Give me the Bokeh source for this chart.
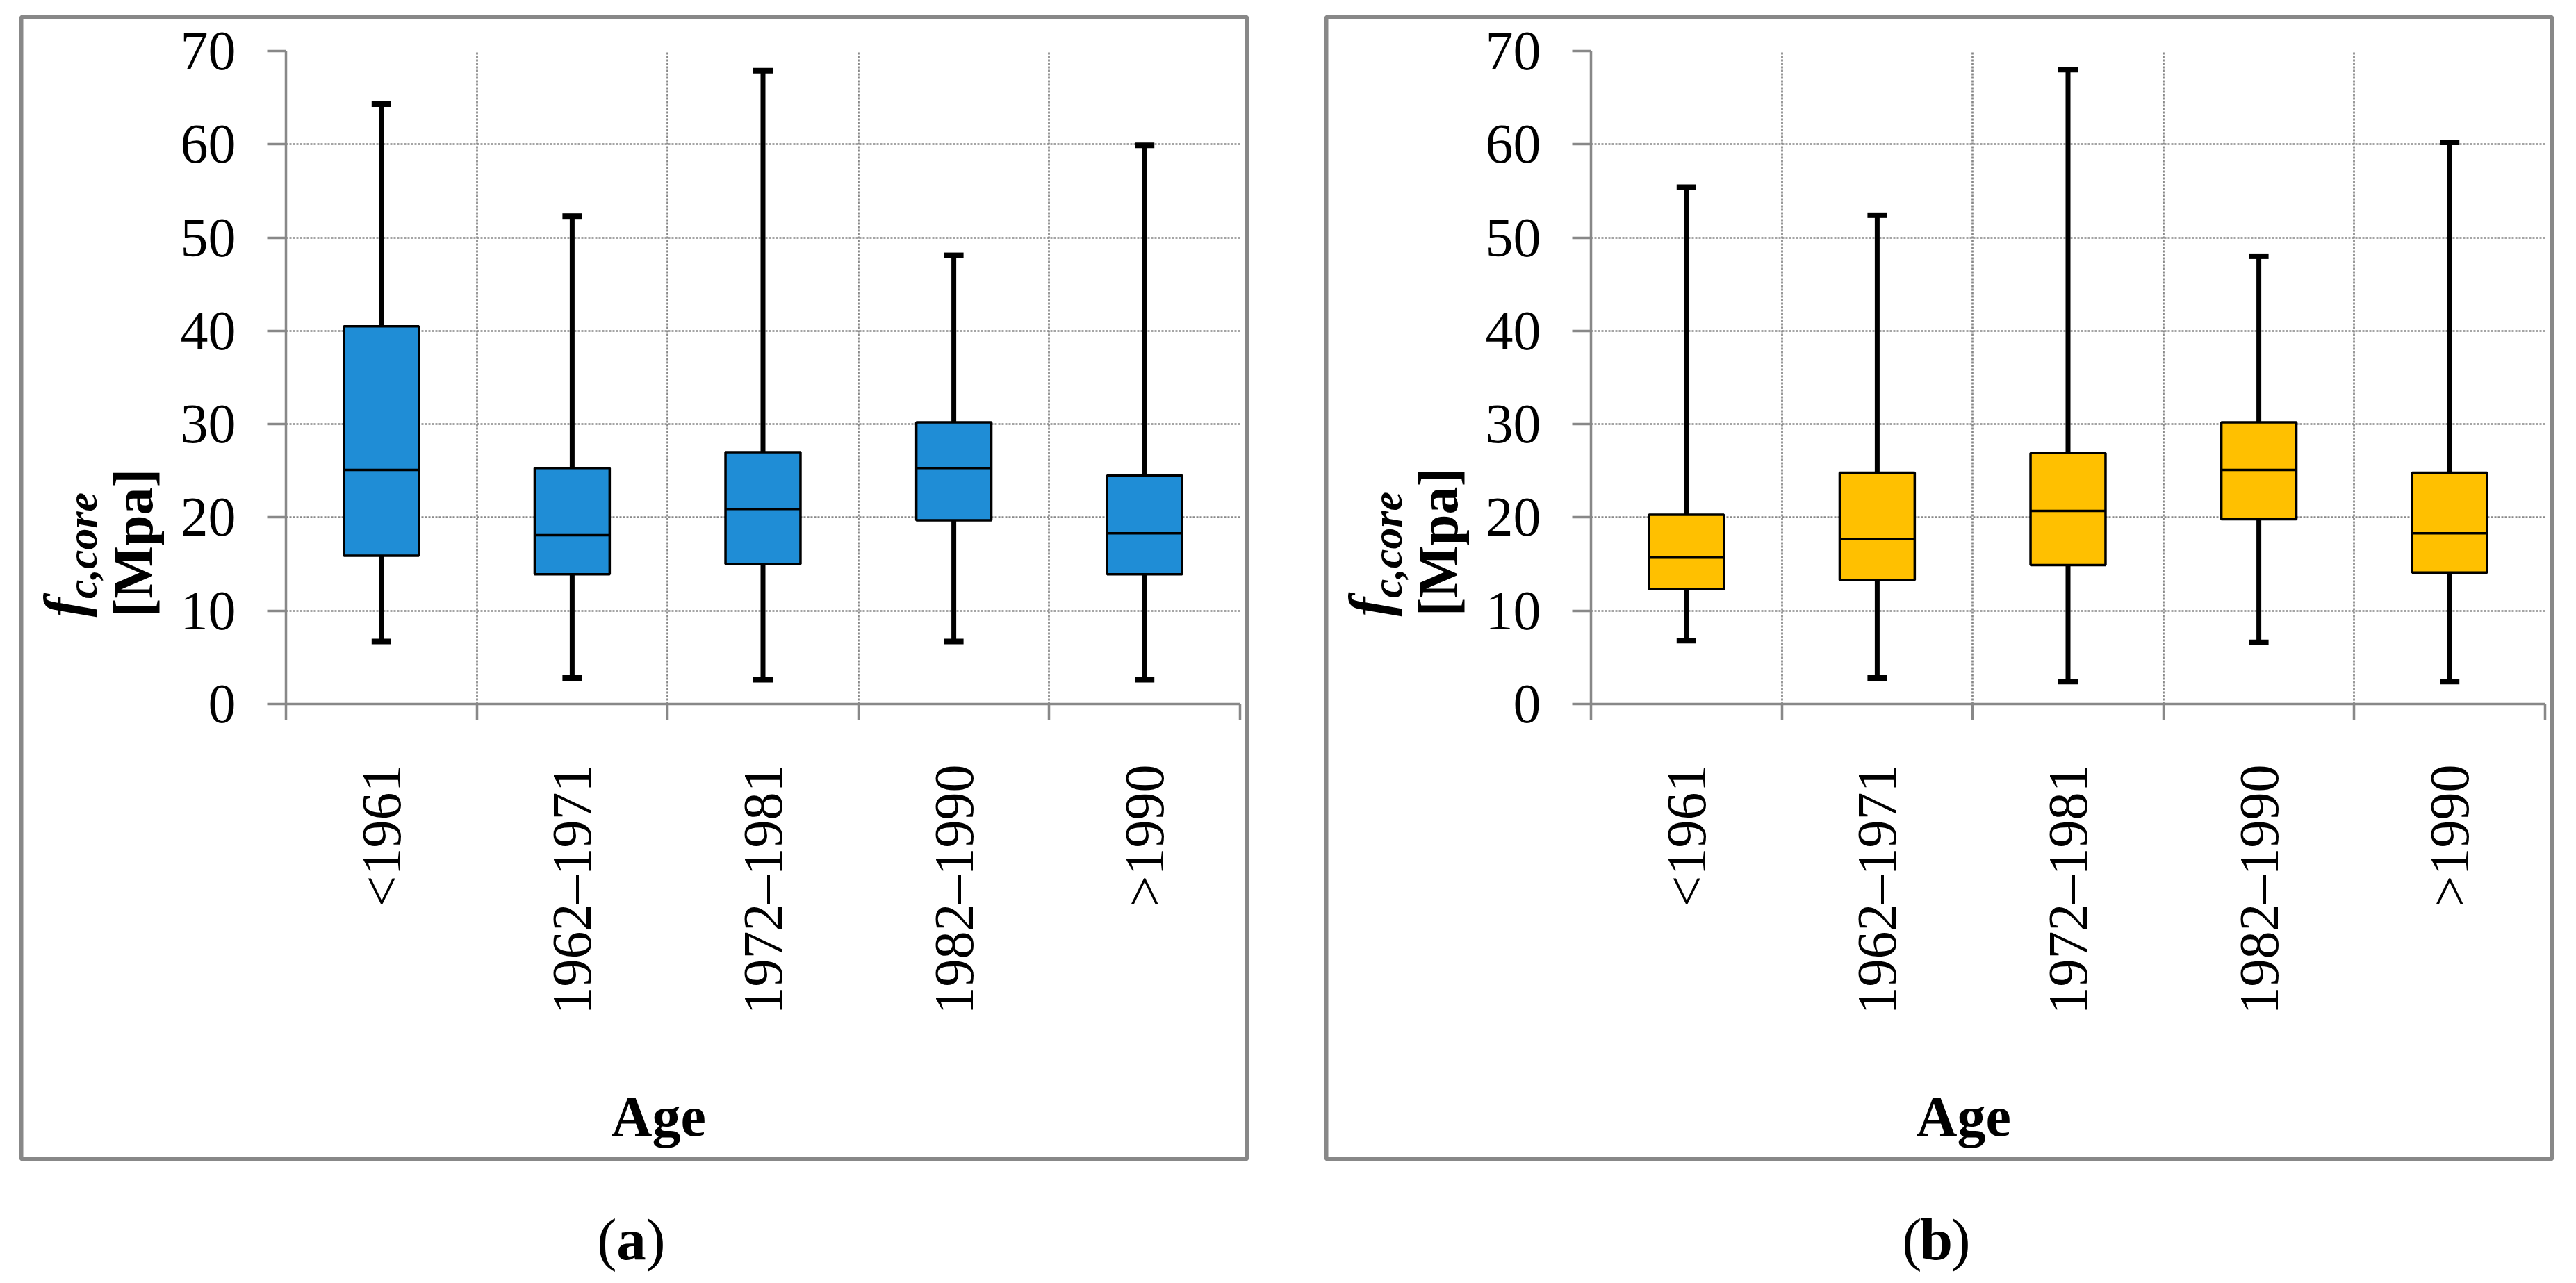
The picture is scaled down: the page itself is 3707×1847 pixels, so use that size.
import math
from bokeh.plotting import figure
from bokeh.models import Range1d, FixedTicker, Spacer
from bokeh.layouts import row, column
from bokeh.embed import file_html
from bokeh.resources import INLINE
from bokeh.core.properties import value

# ---------------- data ----------------
categories = ["<1961", "1962\u20131971", "1972\u20131981", "1982\u20131990", ">1990"]
y_ticks = [0, 10, 20, 30, 40, 50, 60, 70]

# panel (a)
a_low = [6.7, 2.8, 2.6, 6.7, 2.6]
a_q1 = [15.9, 13.9, 15.0, 19.7, 13.9]
a_median = [25.1, 18.1, 20.9, 25.3, 18.3]
a_q3 = [40.5, 25.3, 27.0, 30.2, 24.5]
a_high = [64.3, 52.3, 67.9, 48.1, 59.9]

# panel (b)
b_low = [6.8, 2.8, 2.4, 6.6, 2.4]
b_q1 = [12.3, 13.3, 14.9, 19.8, 14.1]
b_median = [15.7, 17.7, 20.7, 25.1, 18.3]
b_q3 = [20.3, 24.8, 26.9, 30.2, 24.8]
b_high = [55.4, 52.4, 68.0, 48.0, 60.2]

panel_letters = ["a", "b"]
y_title_main = "f"
y_title_sub = "c,core"
y_title_unit = "[Mpa]"
x_title = "Age"

FONT = "Liberation Serif"
GRAY = "#888888"
BLUE = "#1F8DD6"
GOLD = "#FFC000"


def make_panel(low, q1, med, q3, high, color, min_bottom):
    n = len(categories)
    xs = [i + 0.5 for i in range(n)]
    p = figure(width=1758, height=1638,
               x_range=Range1d(0, n), y_range=Range1d(0, 70),
               output_backend="svg", toolbar_location=None,
               min_border_left=378, min_border_right=7,
               min_border_top=46, min_border_bottom=min_bottom)
    p.outline_line_color = None
    p.background_fill_color = "white"
    p.border_fill_color = "white"

    # x axis: labels at category centres, ticks/grid at boundaries
    xticker = FixedTicker(ticks=xs, minor_ticks=list(range(n + 1)))
    xa = p.xaxis[0]
    xa.ticker = xticker
    xa.major_label_overrides = {x: c for x, c in zip(xs, categories)}
    xa.major_label_orientation = math.pi / 2
    xa.major_tick_out = 0
    xa.major_tick_in = 0
    xa.minor_tick_out = 23
    xa.minor_tick_in = 0
    xa.minor_tick_line_color = GRAY
    xa.minor_tick_line_width = 3.5
    xa.axis_line_color = GRAY
    xa.axis_line_width = 3.5
    xa.major_label_standoff = 64
    xa.major_label_text_font = FONT
    xa.major_label_text_font_size = "80px"
    xa.major_label_text_color = "black"

    ya = p.yaxis[0]
    ya.ticker = FixedTicker(ticks=y_ticks, minor_ticks=[])
    ya.major_tick_out = 27
    ya.major_tick_in = 0
    ya.major_tick_line_color = GRAY
    ya.major_tick_line_width = 3.5
    ya.minor_tick_line_color = None
    ya.axis_line_color = GRAY
    ya.axis_line_width = 3.5
    ya.major_label_standoff = 45
    ya.major_label_text_font = FONT
    ya.major_label_text_font_size = "80px"
    ya.major_label_text_color = "black"

    p.xgrid.ticker = xticker
    p.xgrid.grid_line_color = None
    p.xgrid.minor_grid_line_color = GRAY
    p.xgrid.minor_grid_line_width = 2.7
    p.xgrid.minor_grid_line_dash = "3 2"
    p.ygrid.grid_line_color = GRAY
    p.ygrid.grid_line_width = 2.7
    p.ygrid.grid_line_dash = "3 2"

    # whiskers
    p.segment(x0=xs, y0=low, x1=xs, y1=high, line_color="black", line_width=7)
    p.rect(x=xs, y=low, width=28, height=8, width_units="screen", height_units="screen",
           fill_color="black", line_color=None)
    p.rect(x=xs, y=high, width=28, height=8, width_units="screen", height_units="screen",
           fill_color="black", line_color=None)
    # boxes
    p.vbar(x=xs, width=0.393, bottom=q1, top=q3, fill_color=color,
           line_color="black", line_width=3.5)
    # medians
    p.rect(x=xs, y=med, width=0.393, height=3.5, height_units="screen",
           fill_color="black", line_color=None)
    return p


pa = make_panel(a_low, a_q1, a_median, a_q3, a_high, BLUE, min_bottom=652)
pb = make_panel(b_low, b_q1, b_median, b_q3, b_high, GOLD, min_bottom=646)

# ---------- transparent overlay for panel frames and titles (page pixel coords) ----------
W, H = 3690, 1840
ov = figure(width=W, height=H, x_range=Range1d(0, W), y_range=Range1d(0, H),
            output_backend="svg", toolbar_location=None,
            x_axis_location=None, y_axis_location=None,
            min_border_left=0, min_border_right=0, min_border_top=0, min_border_bottom=0)
ov.outline_line_color = None
ov.background_fill_color = None
ov.border_fill_color = None
ov.xgrid.visible = False
ov.ygrid.visible = False
ov.styles = {"position": "absolute", "left": "0px", "top": "0px",
             "width": "%dpx" % W, "height": "%dpx" % H}


def py(y):
    return H - y


panel_left = [30, 1908]
panel_right = [1794, 3672]
ov.quad(left=panel_left, right=panel_right, top=[py(24)] * 2, bottom=[py(1668)] * 2,
        fill_color=None, line_color=GRAY, line_width=6)

outer_left = [27, 1905]
age_center = [x + 920 for x in outer_left]
cap_center = [908, 2786]

TXT = dict(text_font=value(FONT), text_align="center", text_baseline="middle",
           text_color="black")

# y-axis title, two rotated lines
ov.text(x=[x + 66 for x in outer_left], y=[py(874), py(873)],
        text=[y_title_main] * 2, angle=math.pi / 2,
        text_font_size="84px", text_font_style="bold italic", **TXT)
ov.text(x=[x + 90 for x in outer_left], y=[py(785), py(784)],
        text=[y_title_sub] * 2, angle=math.pi / 2,
        text_font_size="62px", text_font_style="bold italic", **TXT)
ov.text(x=[x + 164 for x in outer_left], y=[py(781), py(780)],
        text=[y_title_unit] * 2, angle=math.pi / 2,
        text_font_size="80px", text_font_style="bold", **TXT)
# x-axis title
ov.text(x=age_center, y=[py(1607)] * 2, text=[x_title] * 2,
        text_font_size="82px", text_font_style="bold", **TXT)

# captions "(a)" / "(b)"
ov.text(x=[c - 35 for c in cap_center], y=[py(1783)] * 2, text=["("] * 2,
        text_font_size="85px", text_font_style="normal", **TXT)
ov.text(x=cap_center, y=[py(1783)] * 2, text=panel_letters,
        text_font_size="85px", text_font_style="bold", **TXT)
ov.text(x=[c + 35 for c in cap_center], y=[py(1783)] * 2, text=[")"] * 2,
        text_font_size="85px", text_font_style="normal", **TXT)

# in-flow content sized exactly W x H so the overlay's container matches it
layout = column(
    Spacer(width=W, height=27),
    row(Spacer(width=33, height=10), pa, Spacer(width=120, height=10), pb,
        Spacer(width=W - 33 - 1758 - 120 - 1758, height=10)),
    Spacer(width=W, height=H - 27 - 1638),
    ov,
)

open("out.html", "w").write(file_html(layout, INLINE))
